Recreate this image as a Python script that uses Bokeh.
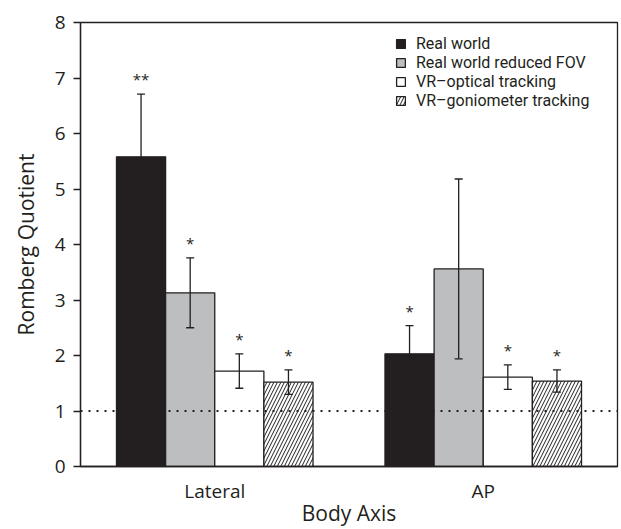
from bokeh.plotting import figure
from bokeh.models import ColumnDataSource, Whisker, TeeHead, Span, Legend, LegendItem, FixedTicker, Range1d
from bokeh.core.properties import value
from bokeh.embed import file_html
from bokeh.resources import INLINE

groups = ["Lateral", "AP"]
series = ["Real world", "Real world reduced FOV", "VR\u2013optical tracking", "VR\u2013goniometer tracking"]
lateral_means = [5.58, 3.13, 1.72, 1.52]
lateral_err = [1.13, 0.63, 0.31, 0.22]
ap_means = [2.03, 3.56, 1.61, 1.54]
ap_err = [0.51, 1.62, 0.22, 0.20]
lateral_stars = ["**", "*", "*", "*"]
ap_stars = ["*", "", "*", "*"]
reference_level = 1.0
y_ticks = [0, 1, 2, 3, 4, 5, 6, 7, 8]

INK = "#231f20"
FONT = "Open Sans"
LEGEND_FONT = "Roboto"
fills = [INK, "#bcbec0", "white", "white"]
hatches = [None, None, None, "/"]

bar_w = 0.183
offsets = [-1.5, -0.5, 0.5, 1.5]
group_x = [1, 2]

p = figure(width=621, height=529, x_range=Range1d(0.5, 2.5), y_range=Range1d(0, 8),
           output_backend="svg", toolbar_location=None,
           min_border_left=80, min_border_right=4, min_border_top=22, min_border_bottom=62)
p.xgrid.visible = False
p.ygrid.visible = False
p.outline_line_color = INK
p.outline_line_width = 1.3
p.background_fill_color = "white"

renderers = []
wx, wu, wl, sx, sy, st = [], [], [], [], [], []
for i, name in enumerate(series):
    xs = [g + offsets[i] * bar_w for g in group_x]
    tops = [lateral_means[i], ap_means[i]]
    errs = [lateral_err[i], ap_err[i]]
    src = ColumnDataSource(dict(x=xs, top=tops))
    kw = {}
    if hatches[i]:
        kw = dict(hatch_pattern=hatches[i], hatch_scale=7, hatch_weight=1, hatch_color=INK)
    r = p.vbar(x="x", top="top", bottom=0, width=bar_w, source=src,
               fill_color=fills[i], line_color=INK, line_width=1.3, **kw)
    renderers.append(r)
    for x, t, e, s in zip(xs, tops, errs, [lateral_stars[i], ap_stars[i]]):
        wx.append(x); wu.append(t + e); wl.append(t - e)
        sx.append(x); sy.append(t + e); st.append(s)

wsrc = ColumnDataSource(dict(x=wx, upper=wu, lower=wl))
wh = Whisker(base="x", upper="upper", lower="lower", source=wsrc, level="overlay",
             line_color=INK, line_width=1.3,
             upper_head=TeeHead(size=8, line_color=INK, line_width=1.3),
             lower_head=TeeHead(size=8, line_color=INK, line_width=1.3))
p.add_layout(wh)

p.add_layout(Span(location=reference_level, dimension="width", line_color=INK,
                  line_width=2.2, line_dash="2 6", level="overlay"))

ssrc = ColumnDataSource(dict(x=sx, y=sy, t=st))
p.text(x="x", y="y", text="t", source=ssrc, text_align="center", text_baseline="alphabetic",
       y_offset=-15, text_font=value(FONT), text_font_size="15px", text_color=INK)

p.yaxis.ticker = FixedTicker(ticks=y_ticks)
p.yaxis.axis_label = "Romberg Quotient"
p.yaxis.major_tick_in = 0
p.yaxis.major_tick_out = 7
p.yaxis.minor_tick_line_color = None
p.yaxis.major_label_standoff = 8
p.yaxis.axis_label_standoff = 12

p.xaxis.ticker = FixedTicker(ticks=group_x)
p.xaxis.major_label_overrides = {g: n for g, n in zip(group_x, groups)}
p.xaxis.axis_label = "Body Axis"
p.xaxis.major_tick_in = 0
p.xaxis.major_tick_out = 0
p.xaxis.minor_tick_line_color = None
p.xaxis.major_label_standoff = 11
p.xaxis.axis_label_standoff = -8

for ax in (p.xaxis, p.yaxis):
    ax.axis_line_color = INK
    ax.axis_line_width = 1.3
    ax.major_tick_line_color = INK
    ax.major_tick_line_width = 1.3
    ax.major_label_text_font = FONT
    ax.major_label_text_font_size = "19px"
    ax.major_label_text_color = INK
    ax.axis_label_text_font = FONT
    ax.axis_label_text_font_size = "21px"
    ax.axis_label_text_font_style = "normal"
    ax.axis_label_text_color = INK

# one legend box per entry so rows sit 19px apart like the reference
frame_h = 444
row_centers = [22, 41, 60, 79]
item_h = 19
for n, r, rc in zip(series, renderers, row_centers):
    lg = Legend(items=[LegendItem(label=n, renderers=[r])],
                location=(315, frame_h - rc - item_h // 2), padding=0, margin=0, spacing=0,
                glyph_width=11, glyph_height=11, label_height=18, label_standoff=10,
                label_text_font=LEGEND_FONT, label_text_font_size="16px", label_text_color=INK,
                border_line_alpha=0, background_fill_alpha=0)
    p.add_layout(lg)

open("out.html", "w").write(file_html(p, INLINE))
